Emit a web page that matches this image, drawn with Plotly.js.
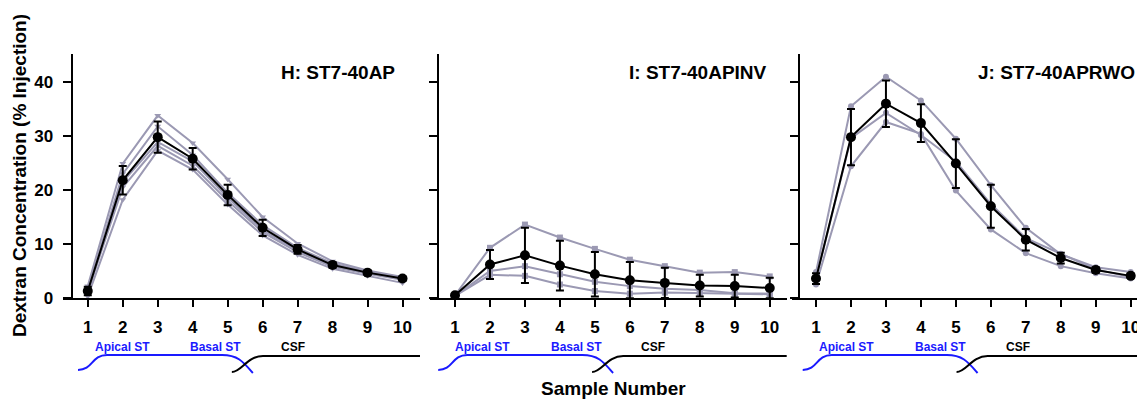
<!DOCTYPE html>
<html><head><meta charset="utf-8">
<script src="https://cdn.plot.ly/plotly-3.0.1.min.js"></script>
<style>html,body{margin:0;padding:0;background:#fff}#chart{width:1137px;height:400px}</style>
</head><body><div id="chart"></div>
<script>
// ---------- data ----------
const samples = [1, 2, 3, 4, 5, 6, 7, 8, 9, 10];
const sampleTickText = ['1', '2', '3', '4', '5', '6', '7', '8', '9', '10'];
const yTickVals = [0, 10, 20, 30, 40];
const yTickText = ['0', '10', '20', '30', '40'];
const panelTitles = ['H: ST7-40AP', 'I: ST7-40APINV', 'J: ST7-40APRWO'];
const regionLabels = ['Apical ST', 'Basal ST', 'CSF'];

// H: ST7-40AP individual runs
const hRun1 = [2.2, 24.9, 33.8, 28.7, 22.0, 15.0, 10.1, 6.8, 5.1, 3.9];
const hRun2 = [1.5, 23.0, 31.8, 26.5, 19.5, 13.5, 9.3, 6.4, 4.9, 3.8];
const hRun3 = [1.0, 21.5, 28.9, 25.3, 18.6, 12.6, 8.8, 6.1, 4.6, 3.6];
const hRun4 = [1.2, 20.5, 28.2, 24.5, 18.0, 12.2, 8.5, 5.8, 4.5, 3.4];
const hRun5 = [0.3, 18.2, 27.3, 23.8, 17.3, 11.6, 8.0, 5.4, 4.1, 2.8];
const hMean = [1.3, 21.8, 29.8, 25.8, 19.1, 13.0, 9.0, 6.1, 4.7, 3.6];
const hErr  = [0.8, 2.65, 2.9, 2.0, 1.9, 1.5, 0.8, 0.5, 0.4, 0.4];

// I: ST7-40APINV individual runs
const iRun1 = [0.5, 9.3, 13.6, 11.2, 9.1, 7.1, 5.9, 4.7, 4.8, 4.0];
const iRun2 = [0.4, 5.0, 5.9, 4.4, 3.0, 2.2, 1.7, 1.5, 0.9, 0.8];
const iRun3 = [0.4, 4.3, 4.1, 2.5, 1.3, 0.8, 1.0, 0.9, 0.7, 0.7];
const iMean = [0.5, 6.2, 7.9, 6.0, 4.4, 3.3, 2.8, 2.3, 2.2, 1.85];
const iErr  = [0.2, 2.7, 5.1, 4.6, 4.1, 3.35, 2.8, 2.0, 2.1, 1.9];

// J: ST7-40APRWO individual runs
const jRun1 = [4.8, 35.5, 41.0, 36.6, 29.5, 20.9, 13.0, 8.1, 5.7, 4.8];
const jRun2 = [3.5, 29.6, 34.3, 30.2, 25.3, 17.4, 11.1, 8.2, 5.3, 3.9];
const jRun3 = [2.5, 24.4, 32.6, 30.4, 19.9, 12.7, 8.3, 5.9, 4.6, 3.6];
const jMean = [3.6, 29.8, 36.0, 32.4, 24.9, 17.0, 10.8, 7.4, 5.2, 4.1];
const jErr  = [1.0, 5.2, 4.3, 3.5, 4.5, 4.0, 2.0, 1.0, 0.5, 0.4];

// ---------- styling / layout ----------
const W = 1137, H = 400;
const px = v => v / W;          // horizontal pixel -> paper
const py = v => (H - v) / H;    // vertical pixel -> paper
const FONT = 'Liberation Sans, Arial, Helvetica, sans-serif';
const GRAY = '#9b99b3';

const panels = [
  {runs: [hRun1, hRun2, hRun3, hRun4, hRun5], mean: hMean, err: hErr, sym: 'triangle-down',
   dom: [63.3, 420], range: [0.3, 10.5], yPos: 71.5, shift: 0, titleX: 397, titleAnchor: 'right'},
  {runs: [iRun1, iRun2, iRun3], mean: iMean, err: iErr, sym: 'square',
   dom: [430, 786.7], range: [0.285, 10.485], yPos: 437.7, shift: -0.2, titleX: 769, titleAnchor: 'right'},
  {runs: [jRun1, jRun2, jRun3], mean: jMean, err: jErr, sym: 'circle',
   dom: [791.7, 1137], range: [0.305, 10.18], yPos: 799.3, shift: -0.1, titleX: 976, titleAnchor: 'left'}
];

const traces = [];
const layout = {
  width: W, height: H,
  margin: {l: 0, r: 0, t: 0, b: 0},
  paper_bgcolor: '#fff', plot_bgcolor: '#fff',
  showlegend: false,
  font: {family: FONT, color: '#000'},
  annotations: [], shapes: []
};

const yDom = [py(298), py(54)];

panels.forEach((p, k) => {
  const n = k === 0 ? '' : String(k + 1);
  const xa = 'x' + n, ya = 'y' + n;
  p.runs.forEach(r => {
    traces.push({x: samples, y: r, xaxis: xa, yaxis: ya, type: 'scatter', mode: 'lines+markers',
      line: {color: GRAY, width: 2}, marker: {color: GRAY, size: 6, symbol: p.sym},
      cliponaxis: false, hoverinfo: 'skip'});
  });
  traces.push({x: samples, y: p.mean, xaxis: xa, yaxis: ya, type: 'scatter', mode: 'lines+markers',
    line: {color: '#000', width: 2}, marker: {color: '#000', size: 10, symbol: 'circle'},
    error_y: {type: 'data', array: p.err, visible: true, color: '#000', thickness: 2, width: 4},
    cliponaxis: false});

  layout['xaxis' + n] = {
    domain: [px(p.dom[0]), px(p.dom[1])], range: p.range, anchor: ya,
    tickmode: 'array', tickvals: samples, ticktext: sampleTickText,
    ticks: 'outside', ticklen: 7, tickwidth: 2, tickcolor: '#000',
    showline: true, linewidth: 2, linecolor: '#000',
    showgrid: false, zeroline: false, fixedrange: true,
    tickfont: {family: FONT, size: 17, color: '#000', weight: 'bold'},
    ticklabelstandoff: 6, ticklabeloverflow: 'allow'
  };
  layout['yaxis' + n] = {
    domain: yDom, range: [0, 45.2], anchor: 'free', position: px(p.yPos),
    tickmode: 'array', tickvals: yTickVals, ticktext: yTickText,
    showticklabels: k === 0,
    ticks: 'outside', ticklen: 8, tickwidth: 2, tickcolor: '#000',
    showline: true, linewidth: 2, linecolor: '#000',
    showgrid: false, zeroline: false, fixedrange: true,
    tickfont: {family: FONT, size: 17, color: '#000', weight: 'bold'},
    ticklabelstandoff: 6
  };

  // panel title
  layout.annotations.push({text: panelTitles[k], xref: 'paper', yref: 'paper',
    x: px(p.titleX), y: py(72), xanchor: p.titleAnchor, yanchor: 'middle', showarrow: false,
    font: {family: FONT, size: 19, color: '#000', weight: 'bold'}});

  // region brackets below the axis (in sample units)
  const s = p.shift;
  const yTop = py(355), yBlueStart = py(370), yBlueEnd = py(373), yBlackStart = py(372), yBlackTop = py(356);
  layout.shapes.push({type: 'path', xref: xa, yref: 'paper', layer: 'above',
    path: `M ${0.72 + s},${yBlueStart} C ${1.15 + s},${yBlueStart} ${1.1 + s},${yTop} ${1.55 + s},${yTop} L ${4.84 + s},${yTop} C ${5.3 + s},${yTop} ${5.45 + s},${py(362)} ${5.72 + s},${yBlueEnd}`,
    line: {color: '#1a1aff', width: 2}});
  layout.shapes.push({type: 'path', xref: xa, yref: 'paper', layer: 'above',
    path: `M ${5.12 + s},${yBlackStart} C ${5.4 + s},${yBlackStart} ${5.55 + s},${yBlackTop} ${6.01 + s},${yBlackTop} L ${10.5},${yBlackTop}`,
    line: {color: '#000', width: 2}});
  const labX = [1.98 + s, 4.66 + s, 6.87 + s];
  const labC = ['#1a1aff', '#1a1aff', '#000'];
  regionLabels.forEach((t, i) => {
    layout.annotations.push({text: t, xref: xa, yref: 'paper', x: labX[i], y: py(347),
      xanchor: 'center', yanchor: 'middle', showarrow: false,
      font: {family: FONT, size: 12, color: labC[i], weight: 'bold'}});
  });
});

// axis titles
layout.annotations.push({text: 'Dextran Concentration (% Injection)', xref: 'paper', yref: 'paper',
  x: px(20), y: py(176), textangle: -90, xanchor: 'center', yanchor: 'middle', showarrow: false,
  font: {family: FONT, size: 19, color: '#000', weight: 'bold'}});
layout.annotations.push({text: 'Sample Number', xref: 'paper', yref: 'paper',
  x: px(613), y: py(400), xanchor: 'center', yanchor: 'bottom', borderpad: 0, showarrow: false,
  font: {family: FONT, size: 19, color: '#000', weight: 'bold'}});

Plotly.newPlot('chart', traces, layout, {displayModeBar: false, staticPlot: true});
</script></body></html>
